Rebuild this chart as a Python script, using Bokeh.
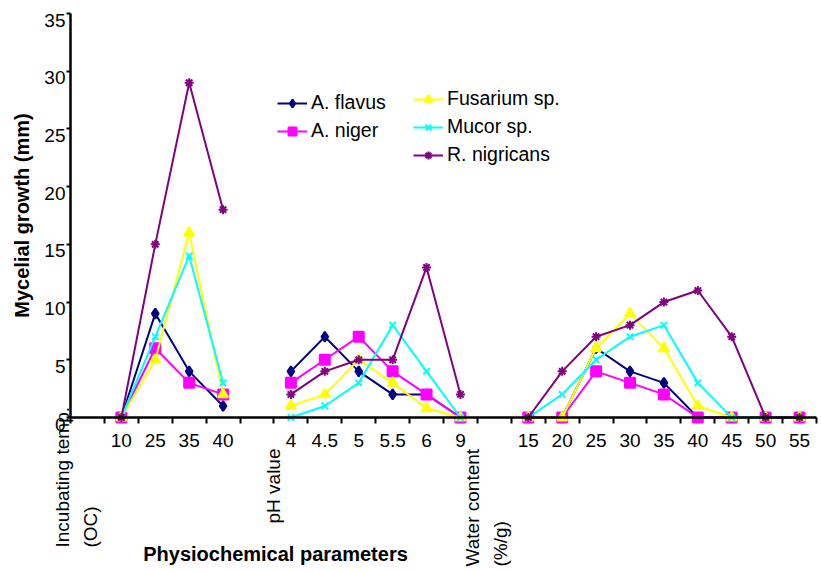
import math
from bokeh.plotting import figure
from bokeh.models import (Range1d, FixedTicker, Legend, LegendItem, Label,
                          LabelSet, ColumnDataSource)
from bokeh.core.properties import value
from bokeh.embed import file_html
from bokeh.resources import INLINE

NaN = float("nan")

# ---- data -------------------------------------------------------------
categories = ["Incubating temp. (OC)", "10", "25", "35", "40",
              "pH value", "4", "4.5", "5", "5.5", "6", "9",
              "Water content (%/g)", "15", "20", "25", "30", "35", "40",
              "45", "50", "55"]
tick_labels = ["", "10", "25", "35", "40",
               "", "4", "4.5", "5", "5.5", "6", "9",
               "", "15", "20", "25", "30", "35", "40", "45", "50", "55"]
group_titles = {0: ["Incubating temp.", "(OC)"],
                5: ["pH value"],
                12: ["Water content", "(%/g)"]}

series_names = ["A. flavus", "A. niger", "Fusarium sp.", "Mucor sp.", "R. nigricans"]
a_flavus    = [NaN, 0, 9, 4, 1,   NaN, 4, 7, 4, 2, 2, 0,   NaN, 0, 0, 6, 4, 3, 0, 0, 0, 0]
a_niger     = [NaN, 0, 6, 3, 2,   NaN, 3, 5, 7, 4, 2, 0,   NaN, 0, 0, 4, 3, 2, 0, 0, 0, 0]
fusarium    = [NaN, 0, 5, 16, 2,  NaN, 1, 2, 5, 3, 0.8, 0, NaN, 0, 0, 6, 9, 6, 1, 0, 0, 0]
mucor       = [NaN, 0, 7, 14, 3,  NaN, 0, 1, 3, 8, 4, 0,   NaN, 0, 2, 5, 7, 8, 3, 0, 0, 0]
r_nigricans = [NaN, 0, 15, 29, 18, NaN, 2, 4, 5, 5, 13, 2, NaN, 0, 4, 7, 8, 10, 11, 7, 0, 0]

y_ticks = [0, 5, 10, 15, 20, 25, 30, 35]
Y_MAX = 35

# ---- styles / layout --------------------------------------------------
colors = ["#000080", "#FF00FF", "#FFFF00", "#00FFFF", "#800080"]
markers = ["diamond", "square", "triangle", "x", "asterisk"]
msizes = [10, 10, 10, 9, 9]
FONT = "Liberation Sans"

W, H = 821, 571
AX_LEFT, AX_RIGHT, AX_TOP, AX_BOTTOM = 70, 816, 13, 417   # axis box, px
N = len(categories)
ux = N / (AX_RIGHT - AX_LEFT)          # x data units per px
uy = Y_MAX / (AX_BOTTOM - AX_TOP)      # y data units per px

x = list(range(1, N + 1))

p = figure(width=W, height=H, output_backend="svg", toolbar_location=None,
           x_range=Range1d(0.5 - AX_LEFT * ux, N + 0.5 + (W - AX_RIGHT) * ux),
           y_range=Range1d(-(H - AX_BOTTOM) * uy, Y_MAX + AX_TOP * uy),
           min_border=0)
p.xgrid.visible = False
p.ygrid.visible = False
p.outline_line_color = None
p.background_fill_color = "white"
p.border_fill_color = "white"

# x axis: labels at category centres, tick marks at category boundaries
xa = p.xaxis[0]
xa.fixed_location = 0
xa.bounds = (0.5, N + 0.5)
xa.ticker = FixedTicker(ticks=[i for i, t in zip(x, tick_labels) if t],
                        minor_ticks=[i + 0.5 for i in range(0, N + 1)])
xa.major_label_overrides = {i: t for i, t in zip(x, tick_labels) if t}
xa.major_tick_out = 0
xa.major_tick_in = 0
xa.minor_tick_out = 6
xa.minor_tick_in = 0
xa.minor_tick_line_width = 2
xa.minor_tick_line_color = "black"
xa.axis_line_width = 2.5
xa.axis_line_color = "black"
xa.major_label_text_font = FONT
xa.major_label_text_font_size = "19px"
xa.major_label_text_color = "black"
xa.major_label_standoff = 10

# y axis
ya = p.yaxis[0]
ya.fixed_location = 0.5
ya.bounds = (0, Y_MAX)
ya.ticker = FixedTicker(ticks=y_ticks, minor_ticks=[])
ya.major_label_overrides = {v: "" for v in y_ticks}
ya.major_label_text_font_size = "1px"
ya.major_tick_out = 4
ya.major_tick_in = 0
ya.major_tick_line_width = 2
ya.axis_line_width = 2.5
ya.axis_line_color = "black"
ya.axis_label = "Mycelial growth (mm)"
ya.axis_label_text_font = FONT
ya.axis_label_text_font_style = "bold"
ya.axis_label_text_font_size = "20px"
ya.axis_label_text_color = "black"
ya.axis_label_standoff = 34

# y tick labels (sit just below their ticks, as in the original)
ysrc = ColumnDataSource(dict(y=y_ticks, x=[0.5] * len(y_ticks),
                             t=[str(v) for v in y_ticks]))
p.add_layout(LabelSet(x="x", y="y", text="t", source=ysrc, x_offset=-5,
                      text_align="right", text_baseline="top",
                      text_font=value(FONT), text_font_size=value("19px"),
                      text_color="black"))

# ---- series -----------------------------------------------------------
data = [a_flavus, a_niger, fusarium, mucor, r_nigricans]
items = []
for name, ys, c, m, s in zip(series_names, data, colors, markers, msizes):
    ln = p.line(x, ys, line_color=c, line_width=2)
    sc = p.scatter(x, ys, marker=m, size=s, fill_color=c, line_color=c, line_width=2)
    items.append(LegendItem(label=name, renderers=[ln, sc]))

def mk_legend(its, loc):
    lg = Legend(items=its, location=loc, orientation="vertical",
                border_line_color=None, background_fill_alpha=0,
                padding=0, margin=0, spacing=5, label_height=20,
                glyph_height=20, glyph_width=30, label_standoff=4,
                label_text_font=FONT, label_text_font_size="19.5px",
                label_text_color="black")
    p.add_layout(lg, "center")

mk_legend(items[:2], (277, 429))
mk_legend(items[2:], (413, 405))

# ---- group titles (rotated category labels) ---------------------------
title_layout = {0: [(-25, 130), (3, 130)],
                5: [(16, 106)],
                12: [(-22, 149), (6, 149)]}
for idx, lines in group_titles.items():
    for txt, (dx, below) in zip(lines, title_layout[idx]):
        p.add_layout(Label(x=x[idx], y=-below * uy, x_offset=dx, text=txt,
                           angle=math.pi / 2, text_align="left",
                           text_baseline="middle", text_font=FONT,
                           text_font_size="19px", text_color="black"))

# x axis title
p.add_layout(Label(x=0.5 + (275 - AX_LEFT) * ux, y=-136 * uy,
                   text="Physiochemical parameters",
                   text_align="center", text_baseline="middle", text_font=FONT,
                   text_font_style="bold", text_font_size="20px",
                   text_color="black"))

open("out.html", "w").write(file_html(p, INLINE))
